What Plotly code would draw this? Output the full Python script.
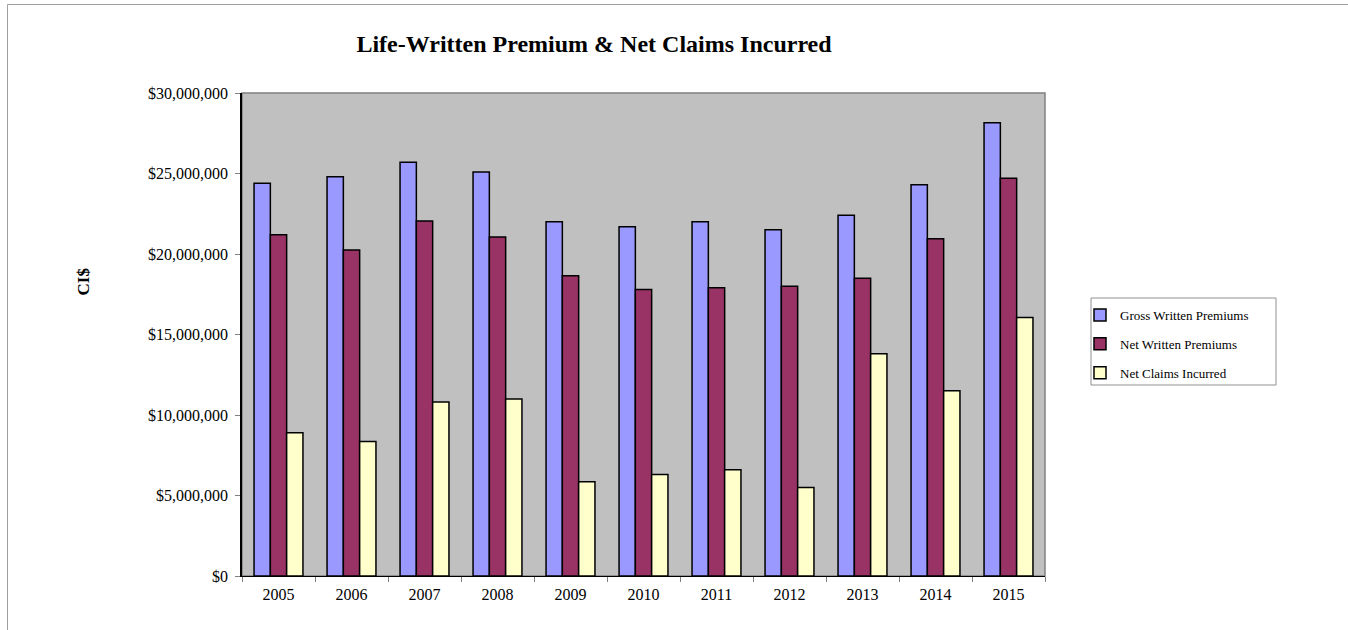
import plotly.graph_objects as go

years = ["2005", "2006", "2007", "2008", "2009", "2010", "2011", "2012", "2013", "2014", "2015"]
gross_written = [24.4e6, 24.8e6, 25.7e6, 25.1e6, 22.0e6, 21.7e6, 22.0e6, 21.5e6, 22.4e6, 24.3e6, 28.15e6]
net_written = [21.2e6, 20.25e6, 22.05e6, 21.05e6, 18.65e6, 17.8e6, 17.9e6, 18.0e6, 18.5e6, 20.95e6, 24.7e6]
net_claims = [8.9e6, 8.35e6, 10.8e6, 11.0e6, 5.85e6, 6.3e6, 6.6e6, 5.5e6, 13.8e6, 11.5e6, 16.05e6]
tick_vals = [0, 5e6, 10e6, 15e6, 20e6, 25e6, 30e6]
tick_text = ["$0", "$5,000,000", "$10,000,000", "$15,000,000", "$20,000,000", "$25,000,000", "$30,000,000"]

FONT = "Liberation Serif, Times New Roman, serif"
W, H = 1348, 630
L, R, T, B = 242, 1045, 93, 576

def px(x):
    return (x - L) / (R - L)

def py(y):
    return (B - y) / (B - T)

fig = go.Figure()
series = [
    ("Gross Written Premiums", gross_written, "#9999FF"),
    ("Net Written Premiums", net_written, "#993366"),
    ("Net Claims Incurred", net_claims, "#FFFFCC"),
]
for name, vals, col in series:
    fig.add_trace(go.Bar(
        x=years, y=vals, name=name, legendgroup=name,
        marker=dict(color=col, line=dict(color="black", width=1.5)),
    ))

fig.update_layout(
    width=W, height=H,
    margin=dict(l=L, r=W - R, t=T, b=H - B, autoexpand=False),
    paper_bgcolor="white",
    plot_bgcolor="#C0C0C0",
    barmode="group",
    bargap=0.33,
    bargroupgap=0,
    font=dict(family=FONT, size=16, color="black"),
    title=dict(
        text="<b>Life-Written Premium & Net Claims Incurred</b>",
        font=dict(family=FONT, size=24, color="black"),
        x=px(594), xref="paper", xanchor="center",
        y=1 - 44 / H, yanchor="middle",
    ),
    legend=dict(
        x=px(1080), y=py(300), xanchor="left", yanchor="top",
        borderwidth=0, bgcolor="rgba(0,0,0,0)",
        font=dict(family=FONT, size=13, color="black"),
        tracegroupgap=9, itemwidth=30,
    ),
    showlegend=True,
)
fig.update_xaxes(
    type="category",
    showline=True, linecolor="black", linewidth=1,
    ticks="outside", tickson="boundaries", ticklen=5, tickcolor="#808080",
    showgrid=False, ticklabelstandoff=4,
    tickfont=dict(family=FONT, size=16),
)
fig.update_yaxes(
    range=[0, 30e6],
    tickvals=tick_vals, ticktext=tick_text,
    showline=True, linecolor="black", linewidth=1.5,
    ticks="outside", ticklen=5, tickcolor="#808080",
    showgrid=False, zeroline=False, ticklabelstandoff=4,
    tickfont=dict(family=FONT, size=16),
)
# plot area border (gray top/right)
fig.add_shape(type="rect", xref="paper", yref="paper", x0=0, x1=1, y0=0, y1=1,
              line=dict(color="#808080", width=1.5), layer="below")
# legend box
fig.add_shape(type="rect", xref="paper", yref="paper",
              x0=px(1091), x1=px(1276), y0=py(385), y1=py(298),
              line=dict(color="#909090", width=1), fillcolor="white", layer="below")
# outer chart border
fig.add_shape(type="rect", xref="paper", yref="paper",
              x0=px(7.5), x1=px(1370), y0=py(660), y1=py(4.5),
              line=dict(color="#A0A0A0", width=1))
fig.add_annotation(text="<b>CI$</b>", xref="paper", yref="paper", x=px(71), y=py(282),
                   showarrow=False, textangle=-90, font=dict(family=FONT, size=17, color="black"))

fig.write_html("out.html", config={"displayModeBar": False},
               post_script="document.body.style.margin='0';document.body.style.overflow='hidden';")
